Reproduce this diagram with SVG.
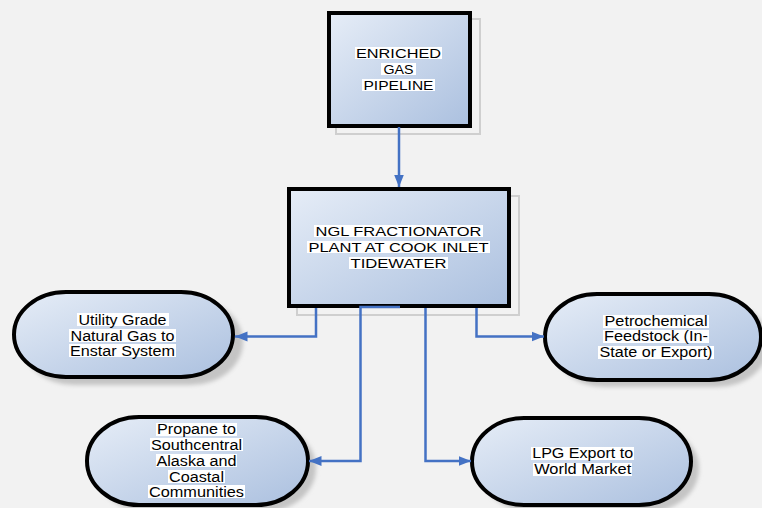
<svg xmlns="http://www.w3.org/2000/svg" width="762" height="508" viewBox="0 0 762 508">
<defs>
<linearGradient id="fill" x1="0" y1="0" x2="1" y2="1">
<stop offset="0" stop-color="#e6edf7"/>
<stop offset="1" stop-color="#abc0df"/>
</linearGradient>
<filter id="blur" x="-10%" y="-10%" width="120%" height="120%"><feGaussianBlur stdDeviation="2"/></filter>
<marker id="arr" markerUnits="userSpaceOnUse" markerWidth="13" markerHeight="11" viewBox="0 0 13 11" refX="12.5" refY="5.5" orient="auto">
<path d="M0,0.5 L12.5,5.5 L0,10.5 z" fill="#4472c4"/>
</marker>
</defs>
<style>
.box{fill:url(#fill);stroke:#000;stroke-width:4}
.bshadow{fill:none;stroke:#cfcfcf;stroke-width:2}
.eshadow{fill:#c4c4c4;filter:url(#blur)}
.hl{fill:#fff}
.bt{font-family:"Liberation Sans",Arial,sans-serif;font-size:13.5px;fill:#000;text-anchor:middle}
.et{font-family:"Liberation Sans",Arial,sans-serif;font-size:14px;fill:#000;text-anchor:middle}
.con{fill:none;stroke:#4472c4;stroke-width:2.5}
</style>
<rect width="762" height="508" fill="#f2f2f2"/>

<g id="node-enriched">
<rect class="bshadow" x="336" y="19" width="144" height="115"/>
<rect class="box" x="329" y="13" width="141" height="113"/>
<rect class="hl" x="355" y="47" width="87" height="12"/>
<rect class="hl" x="381" y="63" width="35" height="12"/>
<rect class="hl" x="362" y="79" width="73" height="12"/>
<text class="bt" x="398.5" y="58" textLength="85" lengthAdjust="spacingAndGlyphs">ENRICHED</text>
<text class="bt" x="398.5" y="74" textLength="30" lengthAdjust="spacingAndGlyphs">GAS</text>
<text class="bt" x="398.5" y="90" textLength="70" lengthAdjust="spacingAndGlyphs">PIPELINE</text>
</g>

<g id="node-ngl">
<rect class="bshadow" x="297" y="196" width="222" height="119"/>
<rect class="box" x="289" y="189" width="220" height="117"/>
<rect class="hl" x="314" y="225" width="169" height="12"/>
<rect class="hl" x="307" y="241" width="183" height="12"/>
<rect class="hl" x="349" y="257" width="99" height="12"/>
<text class="bt" x="398.5" y="236" textLength="166" lengthAdjust="spacingAndGlyphs">NGL FRACTIONATOR</text>
<text class="bt" x="398.5" y="252" textLength="180" lengthAdjust="spacingAndGlyphs">PLANT AT COOK INLET</text>
<text class="bt" x="398.5" y="268" textLength="96" lengthAdjust="spacingAndGlyphs">TIDEWATER</text>
</g>

<g id="node-utility">
<rect class="eshadow" x="22" y="299" width="221" height="86" rx="52" ry="43"/>
<rect class="box" x="14" y="292" width="219" height="85" rx="52" ry="42.5"/>
<rect class="hl" x="77" y="313" width="92" height="13"/>
<rect class="hl" x="69" y="329" width="107" height="13"/>
<rect class="hl" x="69" y="344" width="107" height="13"/>
<text class="et" x="122.5" y="325" textLength="88" lengthAdjust="spacingAndGlyphs">Utility Grade</text>
<text class="et" x="122.5" y="341" textLength="104" lengthAdjust="spacingAndGlyphs">Natural Gas to</text>
<text class="et" x="122.5" y="356" textLength="105" lengthAdjust="spacingAndGlyphs">Enstar System</text>
</g>

<g id="node-propane">
<rect class="eshadow" x="95" y="424" width="221" height="88" rx="52" ry="44"/>
<rect class="box" x="87" y="417" width="221" height="88" rx="52" ry="44"/>
<rect class="hl" x="156" y="423" width="81" height="13"/>
<rect class="hl" x="150" y="438" width="93" height="13"/>
<rect class="hl" x="156" y="454" width="81" height="13"/>
<rect class="hl" x="168" y="470" width="57" height="13"/>
<rect class="hl" x="148" y="485" width="97" height="13"/>
<text class="et" x="196.5" y="434" textLength="79" lengthAdjust="spacingAndGlyphs">Propane to</text>
<text class="et" x="196.5" y="450" textLength="91" lengthAdjust="spacingAndGlyphs">Southcentral</text>
<text class="et" x="196.5" y="466" textLength="80" lengthAdjust="spacingAndGlyphs">Alaska and</text>
<text class="et" x="196.5" y="482" textLength="55" lengthAdjust="spacingAndGlyphs">Coastal</text>
<text class="et" x="196.5" y="497" textLength="95" lengthAdjust="spacingAndGlyphs">Communities</text>
</g>

<g id="node-petro">
<rect class="eshadow" x="553" y="301" width="216" height="86" rx="52" ry="43"/>
<rect class="box" x="545" y="294" width="216" height="86" rx="52" ry="43"/>
<rect class="hl" x="603" y="315" width="106" height="13"/>
<rect class="hl" x="603" y="330" width="106" height="13"/>
<rect class="hl" x="598" y="346" width="116" height="13"/>
<text class="et" x="656" y="326" textLength="103" lengthAdjust="spacingAndGlyphs">Petrochemical</text>
<text class="et" x="656" y="341" textLength="104" lengthAdjust="spacingAndGlyphs">Feedstock (In-</text>
<text class="et" x="656" y="357" textLength="113" lengthAdjust="spacingAndGlyphs">State or Export)</text>
</g>

<g id="node-lpg">
<rect class="eshadow" x="480" y="425" width="219" height="87" rx="52" ry="43.5"/>
<rect class="box" x="472" y="418" width="219" height="87" rx="52" ry="43.5"/>
<rect class="hl" x="531" y="447" width="103" height="13"/>
<rect class="hl" x="533" y="463" width="99" height="13"/>
<text class="et" x="582.7" y="458" textLength="101" lengthAdjust="spacingAndGlyphs">LPG Export to</text>
<text class="et" x="582.7" y="474" textLength="97" lengthAdjust="spacingAndGlyphs">World Market</text>
</g>

<g id="connectors">
<path class="con" d="M399,127 V187" marker-end="url(#arr)"/>
<path class="con" d="M316,308 V336.5 H235" marker-end="url(#arr)"/>
<path class="con" d="M400,307 H360.5 V461 H309" marker-end="url(#arr)"/>
<path class="con" d="M425.5,308 V461 H471" marker-end="url(#arr)"/>
<path class="con" d="M476.5,308 V336.5 H544" marker-end="url(#arr)"/>
</g>
</svg>
